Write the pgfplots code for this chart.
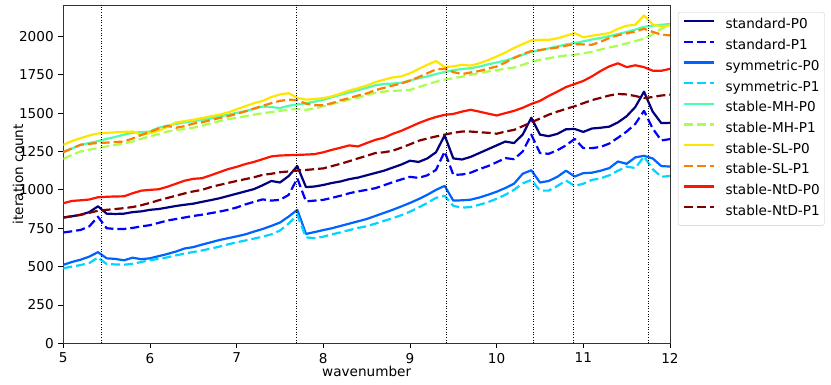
\documentclass[border=0pt]{standalone}
\usepackage{fontspec}
\setmainfont{DejaVu Sans}
\usepackage{pgfplots}
\usepackage{pgfplotstable}
\pgfplotsset{compat=1.18}
\usetikzlibrary{calc}

% jet colormap, 10 steps
\definecolor{jet0}{RGB}{0,0,128}
\definecolor{jet1}{RGB}{0,0,255}
\definecolor{jet2}{RGB}{0,99,255}
\definecolor{jet3}{RGB}{0,212,255}
\definecolor{jet4}{RGB}{78,255,169}
\definecolor{jet5}{RGB}{169,255,78}
\definecolor{jet6}{RGB}{255,230,0}
\definecolor{jet7}{RGB}{255,125,0}
\definecolor{jet8}{RGB}{255,20,0}
\definecolor{jet9}{RGB}{128,0,0}

\pgfplotstableread{
x    sP0  sP1  yP0  yP1  mhP0 mhP1 slP0 slP1 ntP0 ntP1
5.0  820  722  511  489  1246 1202 1294 1246 913  819
5.1  828  730  530  500  1270 1228 1318 1270 928  828
5.2  838  739  545  510  1294 1250 1337 1294 932  837
5.3  855  762  565  523  1305 1262 1355 1300 937  850
5.4  893  825  594  559  1318 1272 1368 1306 952  864
5.5  845  750  554  517  1332 1283 1372 1308 955  870
5.6  843  745  550  514  1345 1293 1375 1312 957  875
5.7  845  745  541  512  1360 1303 1378 1315 958  881
5.8  855  752  558  518  1372 1315 1380 1335 978  888
5.9  860  762  548  530  1376 1333 1360 1358 995  900
6.0  870  770  554  542  1380 1350 1370 1378 1000 915
6.1  875  785  568  550  1405 1363 1385 1400 1004 932
6.2  885  800  582  560  1418 1380 1410 1417 1020 947
6.3  895  810  598  573  1430 1390 1440 1405 1040 962
6.4  903  820  618  585  1440 1397 1448 1415 1060 977
6.5  910  830  627  595  1448 1405 1457 1432 1072 990
6.6  922  838  643  605  1456 1418 1468 1440 1076 1000
6.7  933  848  658  617  1466 1435 1480 1455 1095 1018
6.8  945  858  673  630  1478 1448 1490 1468 1115 1032
6.9  960  870  685  645  1490 1460 1505 1480 1135 1045
7.0  975  885  697  658  1502 1470 1525 1495 1150 1058
7.1  990  905  710  670  1513 1480 1545 1512 1168 1070
7.2  1005 922  728  682  1528 1490 1565 1530 1182 1082
7.3  1030 938  745  695  1543 1500 1580 1548 1200 1098
7.4  1058 930  765  710  1540 1507 1605 1565 1218 1105
7.5  1048 935  787  735  1533 1515 1622 1580 1224 1115
7.6  1090 967  826  780  1548 1522 1630 1588 1226 1120
7.7  1155 1075 870  837  1557 1528 1600 1585 1228 1126
7.8  1018 925  713  690  1565 1522 1588 1562 1230 1130
7.9  1022 930  725  686  1575 1530 1592 1552 1233 1135
8.0  1032 935  738  695  1587 1545 1598 1552 1245 1140
8.1  1045 948  750  710  1604 1560 1610 1565 1261 1155
8.2  1055 962  765  723  1620 1572 1628 1584 1275 1170
8.3  1070 978  780  738  1635 1590 1648 1598 1290 1187
8.4  1080 990  795  752  1650 1600 1663 1615 1283 1205
8.5  1095 1000 810  763  1665 1618 1680 1628 1305 1222
8.6  1110 1011 830  780  1682 1632 1702 1650 1326 1240
8.7  1125 1030 850  798  1690 1641 1718 1665 1340 1245
8.8  1145 1050 870  815  1693 1645 1733 1680 1365 1255
8.9  1165 1068 892  835  1698 1648 1740 1693 1385 1275
9.0  1190 1085 915  858  1713 1652 1760 1712 1410 1297
9.1  1182 1078 940  885  1727 1670 1788 1735 1435 1320
9.2  1205 1095 968  915  1740 1688 1815 1760 1457 1335
9.3  1245 1130 1000 948  1755 1705 1840 1785 1475 1348
9.4  1355 1250 1026 961  1768 1718 1800 1790 1489 1360
9.5  1205 1098 930  896  1780 1728 1805 1768 1495 1372
9.6  1198 1100 932  884  1788 1738 1815 1755 1510 1380
9.7  1215 1112 936  888  1793 1750 1810 1765 1522 1380
9.8  1240 1135 950  903  1803 1762 1825 1775 1510 1376
9.9  1265 1155 968  920  1818 1772 1845 1790 1497 1372
10.0 1290 1180 988  942  1830 1780 1870 1804 1485 1366
10.1 1315 1207 1012 968  1843 1790 1895 1830 1500 1380
10.2 1305 1200 1040 1000 1860 1797 1925 1860 1515 1391
10.3 1360 1250 1105 1042 1880 1815 1950 1885 1535 1415
10.4 1470 1360 1128 1065 1900 1835 1975 1905 1560 1440
10.5 1360 1240 1048 995  1910 1848 1978 1912 1580 1465
10.6 1350 1235 1058 995  1922 1858 1978 1920 1612 1490
10.7 1365 1258 1085 1025 1935 1868 1988 1928 1640 1510
10.8 1395 1290 1125 1061 1948 1876 2005 1940 1670 1528
10.9 1397 1332 1087 1026 1957 1881 2022 1950 1690 1545
11.0 1378 1272 1109 1040 1968 1890 1994 1948 1710 1565
11.1 1400 1272 1112 1065 1980 1900 2005 1946 1740 1585
11.2 1405 1280 1125 1075 1990 1915 2013 1965 1775 1600
11.3 1412 1302 1142 1095 2002 1928 2022 1990 1805 1615
11.4 1440 1340 1185 1125 2015 1940 2050 2008 1825 1625
11.5 1480 1380 1170 1152 2030 1955 2070 2020 1800 1622
11.6 1540 1430 1212 1142 2045 1970 2076 2032 1812 1612
11.7 1640 1515 1222 1217 2063 1985 2137 2050 1800 1598
11.8 1510 1400 1205 1135 2070 2015 2078 2030 1777 1605
11.9 1435 1322 1155 1085 2076 2050 2065 2012 1776 1615
12.0 1437 1331 1152 1091 2081 2075 2072 2007 1789 1620
}\iters

\begin{document}
\fontsize{13.6pt}{16pt}\selectfont
\begin{tikzpicture}
\begin{axis}[
  scale only axis,
  width=606.7pt, height=338.3pt,
  xmin=5, xmax=12, ymin=0, ymax=2205,
  xtick={5,6,...,12},
  ytick={0,250,...,2000},
  tick align=outside, tick pos=left,
  major tick length=4.9pt,
  every tick/.style={black, line width=0.8pt},
  axis line style={black!80, line width=0.8pt},
  /pgf/number format/assume math mode=true,
  /pgf/number format/1000 sep={},
  ticklabel style={font=\fontsize{13.6pt}{16pt}\selectfont},
  xlabel={wavenumber}, ylabel={iteration count},
  every axis x label/.style={at={(axis description cs:0.5,-0.084)}, anchor=center},
  every axis y label/.style={at={(axis description cs:-0.0747,0.5)}, rotate=90, anchor=center},
  label style={font=\fontsize{13.6pt}{16pt}\selectfont},
  legend style={at={(1.013,0.979)}, anchor=north west, draw=black!20,
    rounded corners=2pt, fill=white, font=\fontsize{13.6pt}{16pt}\selectfont,
    nodes={inner sep=0pt, text height=10pt, text depth=3.6pt},
    row sep=7.07pt, column sep=10.6pt, inner xsep=4.7pt, inner ysep=6.7pt},
  legend cell align=left,
  legend image code/.code={\draw[#1] (0pt,4.6pt) -- (30pt,4.6pt);},
  every axis plot/.append style={line width=2.2pt, line join=round},
]
\addplot[jet0] table[x=x, y=sP0] {\iters};
\addlegendentry{standard-P0}
\addplot[jet1, dash pattern=on 9pt off 4pt] table[x=x, y=sP1] {\iters};
\addlegendentry{standard-P1}
\addplot[jet2] table[x=x, y=yP0] {\iters};
\addlegendentry{symmetric-P0}
\addplot[jet3, dash pattern=on 9pt off 4pt] table[x=x, y=yP1] {\iters};
\addlegendentry{symmetric-P1}
\addplot[jet4] table[x=x, y=mhP0] {\iters};
\addlegendentry{stable-MH-P0}
\addplot[jet5, dash pattern=on 9pt off 4pt] table[x=x, y=mhP1] {\iters};
\addlegendentry{stable-MH-P1}
\addplot[jet6] table[x=x, y=slP0] {\iters};
\addlegendentry{stable-SL-P0}
\addplot[jet7, dash pattern=on 9pt off 4pt] table[x=x, y=slP1] {\iters};
\addlegendentry{stable-SL-P1}
\addplot[jet8] table[x=x, y=ntP0] {\iters};
\addlegendentry{stable-NtD-P0}
\addplot[jet9, dash pattern=on 9pt off 4pt] table[x=x, y=ntP1] {\iters};
\addlegendentry{stable-NtD-P1}

% resonance wavenumbers (pi*sqrt(n))
\pgfplotsinvokeforeach{5.4414,7.6953,9.4248,10.4195,10.8828,11.7548}{
  \addplot[forget plot, black, line width=0.9pt, dash pattern=on 1pt off 1.6pt]
    coordinates {(#1,0) (#1,2205)};
}
\coordinate (O) at (rel axis cs:0,0);
\end{axis}
\pgfresetboundingbox
\path[use as bounding box] ($(O)+(-63.3pt,-41.7pt)$) rectangle ($(O)+(767.7pt,343.3pt)$);
\end{tikzpicture}
\end{document}
